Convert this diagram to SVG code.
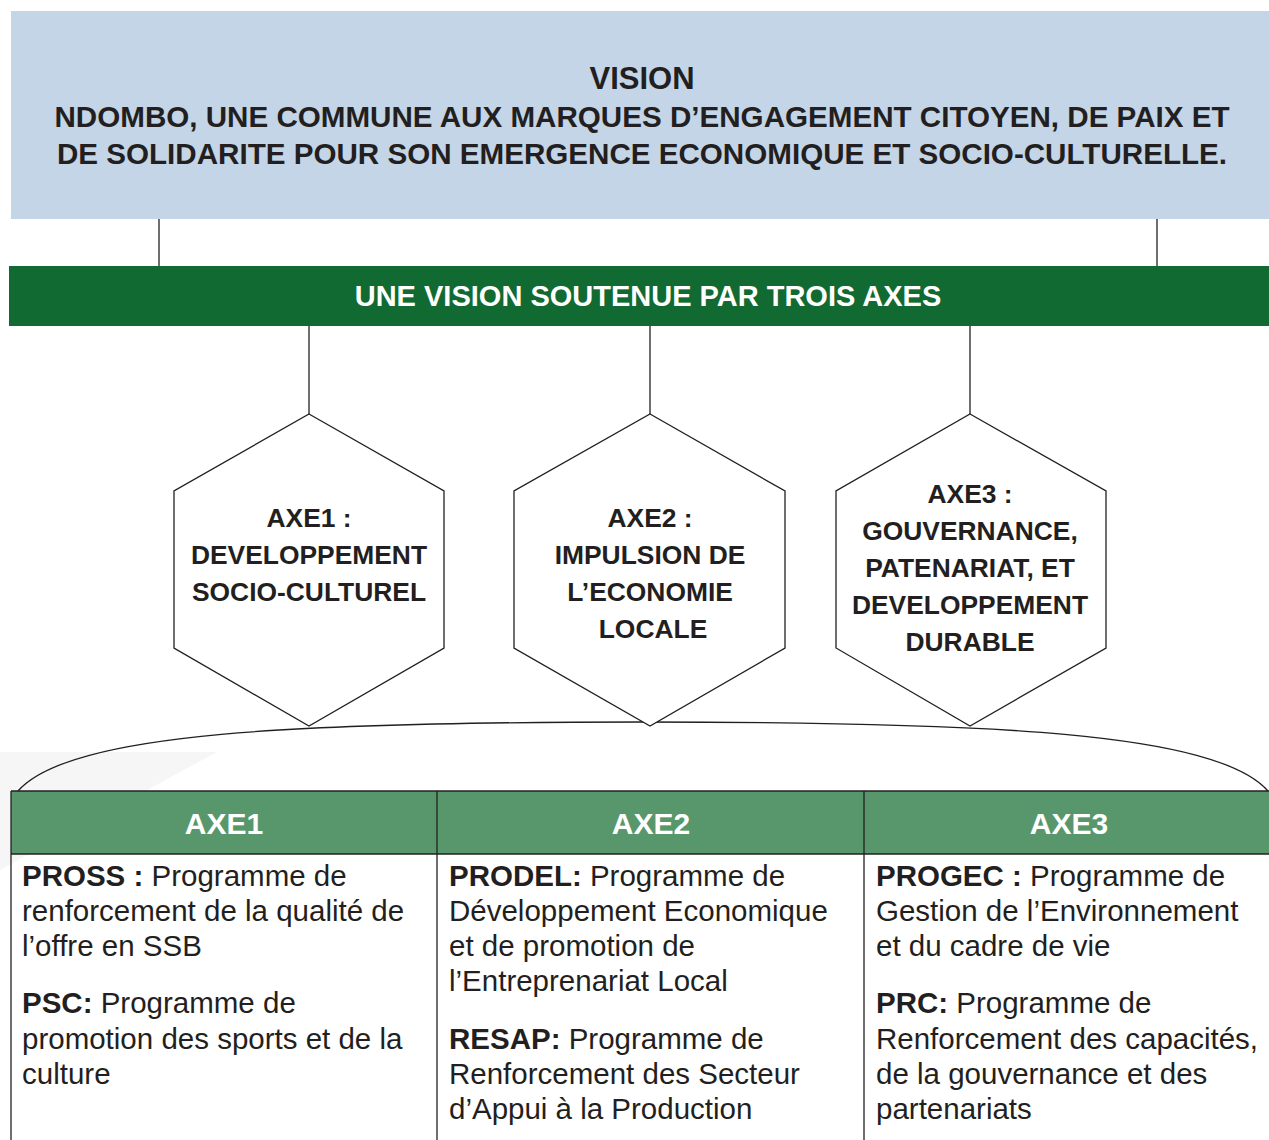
<svg xmlns="http://www.w3.org/2000/svg" width="1269" height="1140" viewBox="0 0 1269 1140">
<style>
.ln{stroke:#231f20;stroke-width:1.3;fill:none}
.hx{stroke:#231f20;stroke-width:1.3;fill:#fff}
.bt{font-family:"Liberation Sans",Arial,sans-serif;font-weight:bold;fill:#231f20;text-anchor:middle}
.wt{font-family:"Liberation Sans",Arial,sans-serif;font-weight:bold;fill:#fff;text-anchor:middle}
.tx{font-family:"Liberation Sans",Arial,sans-serif;font-size:29.5px;fill:#231f20}
.tx tspan.b{font-weight:bold}
</style>
<rect width="1269" height="1140" fill="#fff"/>
<polygon points="0,752 217,752 0,870" fill="#f6f6f6"/>
<g id="vision">
<rect x="11" y="11" width="1258" height="208" fill="#c3d5e6"/>
<text class="bt" x="642" y="89" font-size="31">VISION</text>
<text class="bt" x="642" y="127" font-size="29.6">NDOMBO, UNE COMMUNE AUX MARQUES D’ENGAGEMENT CITOYEN, DE PAIX ET</text>
<text class="bt" x="642" y="164" font-size="29.6">DE SOLIDARITE POUR SON EMERGENCE ECONOMIQUE ET SOCIO-CULTURELLE.</text>
</g>
<g id="connectors">
<line class="ln" x1="159" y1="219" x2="159" y2="266"/>
<line class="ln" x1="1157" y1="219" x2="1157" y2="266"/>
<line class="ln" x1="309" y1="326" x2="309" y2="414"/>
<line class="ln" x1="650" y1="326" x2="650" y2="414"/>
<line class="ln" x1="970" y1="326" x2="970" y2="414"/>
<path class="ln" d="M18,791 C70,732 300,722 643,722 C986,722 1216,732 1268,791"/>
</g>
<g id="bar">
<rect x="9" y="266" width="1260" height="60" fill="#116a31"/>
<text class="wt" x="648" y="306" font-size="29">UNE VISION SOUTENUE PAR TROIS AXES</text>
</g>
<g id="hex1">
<polygon class="hx" points="309,414 444,491 444,648 309,726 174,648 174,491"/>
<text class="bt" font-size="26.4"><tspan x="309" y="527">AXE1 :</tspan><tspan x="309" y="564">DEVELOPPEMENT</tspan><tspan x="309" y="601">SOCIO-CULTUREL</tspan></text>
</g>
<g id="hex2">
<polygon class="hx" points="650,414 785,491 785,648 650,726 514,648 514,491"/>
<text class="bt" font-size="26.4"><tspan x="650" y="527">AXE2 :</tspan><tspan x="650" y="564">IMPULSION DE</tspan><tspan x="650" y="601">L’ECONOMIE</tspan><tspan x="653" y="638">LOCALE</tspan></text>
</g>
<g id="hex3">
<polygon class="hx" points="970,414 1106,491 1106,648 970,726 836,648 836,491"/>
<text class="bt" font-size="26.4"><tspan x="970" y="503">AXE3 :</tspan><tspan x="970" y="540">GOUVERNANCE,</tspan><tspan x="970" y="577">PATENARIAT, ET</tspan><tspan x="970" y="614">DEVELOPPEMENT</tspan><tspan x="970" y="651">DURABLE</tspan></text>
</g>
<g id="table">
<rect x="11" y="791" width="1258" height="63" fill="#58976c"/>
<line class="ln" x1="11" y1="791" x2="1269" y2="791"/>
<line class="ln" x1="11" y1="854" x2="1269" y2="854"/>
<line class="ln" x1="11" y1="791" x2="11" y2="1140"/>
<line class="ln" x1="437" y1="791" x2="437" y2="1140"/>
<line class="ln" x1="864" y1="791" x2="864" y2="1140"/>
<text class="wt" x="224" y="834" font-size="30">AXE1</text>
<text class="wt" x="651" y="834" font-size="30">AXE2</text>
<text class="wt" x="1069" y="834" font-size="30">AXE3</text>
</g>
<g id="axe1-programmes">
<text class="tx"><tspan x="22" y="886"><tspan class="b">PROSS :</tspan> Programme de</tspan><tspan x="22" y="921">renforcement de la qualité de</tspan><tspan x="22" y="956">l’offre en SSB</tspan><tspan x="22" y="1013"><tspan class="b">PSC:</tspan> Programme de</tspan><tspan x="22" y="1049">promotion des sports et de la</tspan><tspan x="22" y="1084">culture</tspan></text>
</g>
<g id="axe2-programmes">
<text class="tx"><tspan x="449" y="886"><tspan class="b">PRODEL:</tspan> Programme de</tspan><tspan x="449" y="921">Développement Economique</tspan><tspan x="449" y="956">et de promotion de</tspan><tspan x="449" y="991">l’Entreprenariat Local</tspan><tspan x="449" y="1049"><tspan class="b">RESAP:</tspan> Programme de</tspan><tspan x="449" y="1084">Renforcement des Secteur</tspan><tspan x="449" y="1119">d’Appui à la Production</tspan></text>
</g>
<g id="axe3-programmes">
<text class="tx"><tspan x="876" y="886"><tspan class="b">PROGEC :</tspan> Programme de</tspan><tspan x="876" y="921">Gestion de l’Environnement</tspan><tspan x="876" y="956">et du cadre de vie</tspan><tspan x="876" y="1013"><tspan class="b">PRC:</tspan> Programme de</tspan><tspan x="876" y="1049">Renforcement des capacités,</tspan><tspan x="876" y="1084">de la gouvernance et des</tspan><tspan x="876" y="1119">partenariats</tspan></text>
</g>
</svg>
